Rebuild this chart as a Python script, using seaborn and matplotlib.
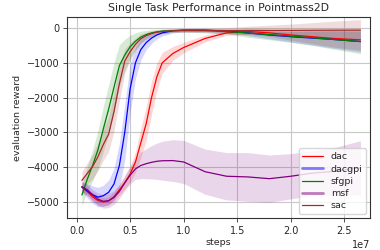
import numpy as np
import seaborn as sns
import matplotlib
matplotlib.use('Agg')
import matplotlib.pyplot as plt
from matplotlib.lines import Line2D

steps = [0.05, 0.1, 0.15, 0.2, 0.25, 0.3, 0.35, 0.4, 0.45, 0.5, 0.55, 0.6, 0.65,
         0.7, 0.75, 0.8, 0.9, 1.0, 1.2, 1.4, 1.6, 1.8, 2.0, 2.2, 2.4, 2.65]  # x 1e7

dac = [-4570, -4700, -4850, -4960, -5000, -4970, -4850, -4650, -4450, -4200, -3850, -3300, -2750,
       -2000, -1400, -1000, -730, -560, -300, -140, -100, -140, -200, -250, -300, -340]
dac_std = [120, 120, 120, 120, 120, 120, 130, 150, 180, 220, 300, 420, 480,
           480, 400, 300, 200, 150, 100, 70, 70, 100, 150, 200, 250, 300]

dacgpi = [-4570, -4680, -4790, -4860, -4820, -4720, -4480, -3950, -3000, -1750, -1000, -620, -420,
          -290, -200, -140, -80, -60, -60, -90, -140, -200, -250, -290, -330, -390]
dacgpi_std = [150, 200, 250, 280, 300, 350, 450, 650, 800, 700, 450, 300, 200,
              150, 110, 90, 60, 50, 50, 60, 80, 110, 150, 200, 250, 300]

sfgpi = [-4800, -4350, -3950, -3500, -2900, -2330, -1700, -1080, -780, -540, -380, -260, -190,
         -140, -110, -90, -75, -70, -75, -100, -145, -190, -235, -280, -330, -390]
sfgpi_std = [300, 350, 450, 550, 650, 700, 700, 600, 450, 330, 240, 170, 120,
             90, 70, 60, 50, 50, 60, 80, 120, 150, 180, 220, 280, 350]

msf = [-4560, -4650, -4800, -4920, -4980, -4960, -4870, -4700, -4450, -4230, -4050, -3950, -3900,
       -3860, -3830, -3815, -3810, -3850, -4130, -4260, -4280, -4330, -4260, -4170, -4120, -4020]
msf_std = [150, 150, 150, 180, 200, 200, 200, 200, 220, 250, 300, 380, 430,
           480, 520, 560, 600, 620, 650, 680, 700, 680, 650, 640, 680, 780]

sac = [-4380, -4180, -3980, -3700, -3350, -3050, -2400, -1600, -950, -680, -470, -310, -220,
       -160, -120, -100, -80, -75, -75, -75, -70, -70, -68, -65, -62, -60]
sac_std = [250, 300, 350, 400, 450, 500, 550, 500, 350, 250, 180, 130, 100,
           80, 70, 60, 50, 50, 60, 80, 120, 150, 180, 220, 260, 300]

names = ['dac', 'dacgpi', 'sfgpi', 'msf', 'sac']
means = [dac, dacgpi, sfgpi, msf, sac]
stds = [dac_std, dacgpi_std, sfgpi_std, msf_std, sac_std]
colors = ['red', 'blue', 'green', 'purple', 'brown']

sns.set_style('ticks', {'axes.grid': True, 'grid.color': '#c8c8c8', 'axes.edgecolor': '#333333'})
plt.rcParams['font.family'] = ['DejaVu Sans']

fig = plt.figure(figsize=(3.8, 2.5), dpi=100)
ax = fig.add_axes([0.176, 0.128, 0.798, 0.804])

x = np.array(steps) * 1e7
for name, m, s, c in zip(names, means, stds, colors):
    m = np.array(m, dtype=float)
    s = np.array(s, dtype=float)
    sns.lineplot(x=x, y=m, color=c, lw=0.9, ax=ax)
    ax.fill_between(x, m - s, m + s, color=c, alpha=0.16, lw=0)

ax.set_xlim(-0.09e7, 2.74e7)
ax.set_ylim(-5460, 316)
ax.set_xticks([0, 0.5e7, 1e7, 1.5e7, 2e7, 2.5e7])
ax.set_yticks([0, -1000, -2000, -3000, -4000, -5000])
ax.tick_params(labelsize=7, length=3, width=0.6, color='#333333', pad=2.5)
ax.xaxis.get_offset_text().set_fontsize(7)
for sp in ax.spines.values():
    sp.set_linewidth(0.8)

ax.set_title('Single Task Performance in Pointmass2D', fontsize=7.8, pad=4)
ax.set_xlabel('steps', fontsize=6.8, labelpad=2)
ax.set_ylabel('evaluation reward', fontsize=6.8, labelpad=3)

handles = [
    Line2D([], [], color='red', lw=0.9),
    Line2D([], [], color='blue', lw=2, alpha=0.5),
    Line2D([], [], color='green', lw=0.9),
    Line2D([], [], color='purple', lw=2, alpha=0.5),
    Line2D([], [], color='brown', lw=0.9),
]
ax.legend(handles, names, loc='lower right', fontsize=6.8, framealpha=0.8,
          handlelength=2.2, labelspacing=0.35, borderaxespad=0.4)

fig.savefig('out.png', dpi=100)
